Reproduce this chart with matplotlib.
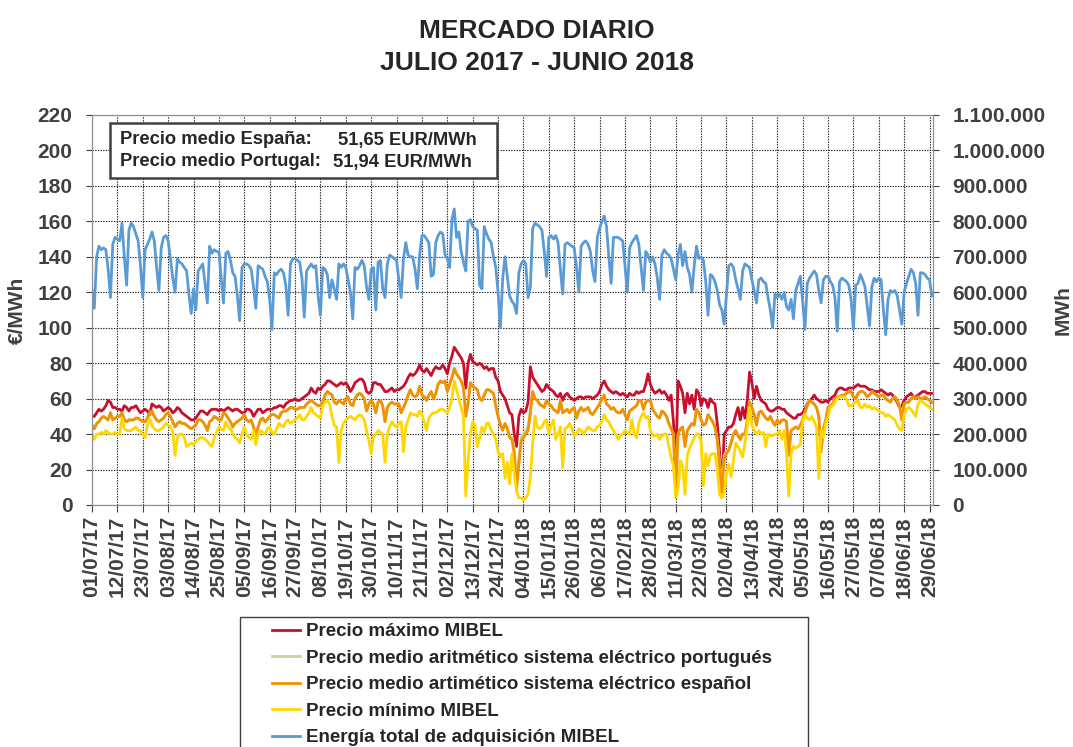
import matplotlib.pyplot as plt
import matplotlib.ticker as ticker
import matplotlib.dates as mdates
from matplotlib.patches import Rectangle
import pandas as pd

plt.rcParams['font.family'] = ['Liberation Sans', 'DejaVu Sans']
plt.rcParams['font.weight'] = 'bold'
plt.rcParams['axes.labelweight'] = 'bold'

# Daily values, 01/07/2017 - 30/06/2018 (one line = one week, Saturday to Friday)
fechas = pd.date_range('2017-07-01', '2018-06-30', freq='D')

precio_max = [
    50, 50, 52, 54, 53, 54, 56,
    59, 58, 55, 55, 54, 54, 53,
    56, 55, 53, 55, 55, 56, 54,
    52, 53, 54, 53, 51, 57, 56,
    55, 56, 55, 53, 54, 55, 54,
    52, 53, 55, 54, 52, 51, 50,
    49, 48, 48, 49, 51, 53, 53,
    52, 51, 53, 54, 54, 54, 53,
    54, 53, 54, 55, 54, 53, 54,
    54, 53, 52, 52, 54, 54, 53,
    50, 52, 54, 54, 52, 53, 54,
    54, 54, 55, 55, 56, 56, 55,
    57, 58, 59, 59, 60, 59, 59,
    60, 61, 62, 63, 66, 64, 63,
    66, 65, 67, 68, 70, 70, 69,
    68, 67, 68, 69, 68, 69, 67,
    64, 66, 69, 70, 71, 71, 69,
    64, 63, 64, 69, 69, 68, 68,
    66, 64, 64, 65, 66, 64, 65,
    65, 66, 67, 69, 72, 74, 73,
    74, 76, 79, 76, 75, 77, 75,
    73, 76, 78, 77, 77, 79, 77,
    74, 80, 84, 89, 87, 85, 83,
    80, 66, 80, 85, 81, 80, 79,
    80, 79, 77, 78, 76, 77, 77,
    72, 70, 64, 62, 60, 56, 52,
    51, 40, 33, 50, 54, 52, 53,
    58, 78, 72, 70, 68, 66, 64,
    65, 68, 66, 65, 64, 62, 61,
    63, 59, 62, 63, 61, 60, 59,
    60, 61, 61, 60, 61, 61, 61,
    60, 61, 62, 64, 68, 70, 67,
    65, 64, 63, 64, 63, 62, 63,
    62, 61, 63, 62, 62, 64, 63,
    64, 64, 68, 74, 68, 65, 63,
    64, 65, 63, 64, 62, 59, 62,
    47, 22, 70, 67, 63, 52, 63,
    57, 62, 54, 65, 63, 56, 60,
    59, 55, 60, 58, 57, 46, 30,
    8, 40, 42, 44, 44, 46, 51,
    55, 48, 55, 49, 59, 75, 69,
    60, 67, 62, 59, 58, 57, 54,
    53, 53, 54, 55, 55, 54, 54,
    52, 51, 50, 49, 49, 51, 51,
    52, 54, 57, 59, 60, 62, 60,
    59, 58, 58, 59, 58, 60, 61,
    62, 65, 66, 66, 65, 65, 66,
    66, 66, 67, 68, 67, 67, 67,
    66, 65, 65, 64, 64, 64, 65,
    64, 63, 62, 63, 62, 60, 58,
    55, 56, 59, 61, 62, 63, 61,
    61, 62, 63, 64, 64, 63, 63,
    63,
]

precio_pt = [
    45, 43, 46, 47, 49, 50, 49,
    48, 52, 48, 49, 50, 50, 52,
    48, 47, 48, 48, 48, 49, 49,
    48, 47, 47, 49, 52, 53, 50,
    48, 47, 48, 49, 51, 52, 50,
    47, 44, 46, 47, 46, 46, 45,
    44, 43, 44, 45, 48, 48, 47,
    45, 42, 47, 48, 50, 49, 48,
    48, 52, 51, 49, 47, 44, 46,
    47, 48, 49, 51, 48, 47, 48,
    44, 39, 44, 48, 49, 47, 48,
    50, 51, 51, 50, 49, 52, 53,
    53, 54, 55, 55, 54, 54, 55,
    55, 55, 57, 58, 59, 58, 57,
    56, 56, 58, 62, 64, 63, 62,
    58, 57, 59, 58, 57, 60, 61,
    57, 56, 60, 62, 63, 62, 60,
    53, 57, 59, 57, 52, 58, 59,
    56, 47, 55, 57, 58, 57, 57,
    57, 52, 55, 58, 62, 65, 62,
    61, 62, 67, 62, 61, 59, 62,
    64, 60, 63, 68, 70, 69, 70,
    64, 68, 72, 77, 74, 72, 70,
    66, 53, 58, 69, 67, 66, 65,
    60, 59, 62, 65, 65, 64, 63,
    56, 50, 46, 43, 46, 43, 39,
    38, 32, 14, 27, 38, 40, 42,
    44, 54, 64, 60, 59, 57, 56,
    55, 59, 57, 56, 54, 53, 52,
    59, 52, 53, 54, 52, 54, 55,
    49, 53, 55, 53, 54, 55, 52,
    51, 53, 55, 57, 60, 62, 57,
    56, 54, 55, 53, 52, 52, 54,
    51, 48, 53, 54, 55, 56, 59,
    59, 54, 58, 59, 59, 54, 52,
    50, 49, 53, 52, 50, 46, 43,
    40, 10, 40, 43, 44, 33, 42,
    44, 46, 45, 54, 52, 48, 45,
    46, 51, 49, 47, 44, 37, 24,
    12, 28, 30, 31, 35, 40, 42,
    39, 37, 40, 40, 47, 58, 55,
    51, 45, 52, 53, 51, 49, 48,
    50, 47, 45, 48, 46, 48, 48,
    47, 30, 42, 43, 44, 43, 45,
    48, 52, 56, 59, 58, 57, 55,
    50, 32, 43, 48, 55, 56, 57,
    60, 61, 61, 62, 62, 63, 64,
    64, 61, 60, 63, 64, 64, 63,
    61, 62, 64, 63, 62, 61, 62,
    62, 60, 59, 58, 60, 61, 59,
    56, 48, 57, 58, 58, 60, 61,
    60, 61, 60, 60, 61, 60, 59,
    58,
]

precio_es = [
    45, 43, 46, 47, 49, 50, 49,
    48, 52, 48, 49, 50, 50, 52,
    48, 47, 48, 48, 48, 49, 49,
    48, 47, 47, 49, 52, 53, 50,
    48, 47, 48, 49, 51, 52, 50,
    47, 44, 46, 47, 46, 46, 45,
    44, 43, 44, 45, 48, 48, 47,
    45, 42, 47, 48, 50, 49, 48,
    48, 52, 51, 49, 47, 44, 46,
    47, 48, 49, 51, 48, 47, 48,
    44, 39, 44, 48, 49, 47, 48,
    50, 51, 51, 50, 49, 52, 53,
    53, 54, 55, 55, 54, 54, 55,
    55, 55, 57, 58, 59, 58, 57,
    56, 56, 58, 62, 64, 63, 62,
    58, 57, 59, 58, 57, 60, 61,
    57, 56, 60, 62, 63, 62, 60,
    53, 57, 59, 57, 52, 58, 59,
    56, 47, 55, 57, 58, 57, 57,
    57, 52, 55, 58, 62, 65, 62,
    61, 62, 67, 62, 61, 59, 62,
    64, 60, 63, 68, 70, 69, 70,
    64, 68, 72, 77, 74, 72, 70,
    66, 50, 57, 69, 67, 66, 65,
    60, 59, 62, 65, 65, 64, 63,
    56, 50, 45, 42, 46, 43, 38,
    37, 29, 9, 23, 36, 38, 40,
    42, 52, 64, 60, 59, 57, 56,
    55, 59, 57, 56, 54, 53, 52,
    59, 52, 53, 54, 52, 54, 55,
    49, 53, 55, 53, 54, 55, 52,
    51, 53, 55, 57, 60, 62, 57,
    56, 54, 55, 53, 52, 52, 54,
    51, 48, 53, 54, 55, 56, 59,
    59, 54, 58, 59, 59, 54, 52,
    50, 49, 53, 52, 50, 46, 43,
    40, 7, 40, 43, 44, 33, 42,
    44, 46, 45, 54, 52, 48, 45,
    46, 51, 49, 47, 44, 37, 22,
    7, 26, 29, 31, 35, 40, 42,
    39, 37, 40, 40, 47, 58, 55,
    51, 45, 52, 53, 51, 49, 48,
    50, 47, 45, 48, 46, 48, 48,
    47, 28, 42, 43, 44, 43, 45,
    48, 52, 56, 59, 58, 57, 55,
    50, 30, 43, 48, 55, 56, 57,
    60, 61, 61, 62, 62, 63, 64,
    64, 61, 60, 63, 64, 64, 63,
    61, 62, 64, 63, 62, 61, 62,
    62, 60, 59, 58, 60, 61, 59,
    56, 48, 57, 58, 58, 60, 61,
    60, 61, 60, 60, 61, 60, 59,
    58,
]

precio_min = [
    40, 37, 40, 40, 41, 40, 42,
    41, 40, 40, 41, 40, 40, 49,
    43, 42, 42, 42, 43, 44, 42,
    42, 40, 38, 45, 49, 45, 43,
    42, 42, 43, 44, 46, 45, 44,
    41, 28, 38, 40, 40, 38, 33,
    34, 35, 34, 36, 37, 38, 38,
    37, 36, 34, 33, 38, 41, 44,
    43, 42, 47, 44, 43, 40, 38,
    37, 35, 40, 44, 40, 38, 37,
    42, 34, 40, 42, 41, 40, 43,
    44, 41, 40, 43, 46, 45, 44,
    47, 48, 46, 47, 48, 49, 51,
    48, 48, 50, 52, 55, 52, 51,
    50, 49, 56, 58, 59, 57, 50,
    45, 44, 24, 42, 46, 48, 49,
    50, 49, 48, 50, 51, 50, 48,
    42, 36, 29, 39, 40, 42, 41,
    40, 24, 40, 44, 47, 45, 44,
    46, 47, 30, 44, 48, 52, 51,
    51, 50, 53, 51, 47, 42, 49,
    51, 52, 52, 53, 54, 54, 53,
    52, 55, 60, 70, 65, 60, 55,
    50, 5, 25, 40, 47, 45, 33,
    38, 44, 41, 46, 46, 42, 40,
    37, 30, 27, 29, 15, 24, 12,
    29, 18, 8, 4, 4, 3, 4,
    6, 16, 35, 50, 44, 43, 44,
    47, 48, 40, 45, 48, 37, 40,
    44, 21, 43, 44, 46, 43, 39,
    40, 43, 42, 40, 42, 44, 43,
    42, 42, 44, 45, 47, 51, 48,
    47, 44, 42, 40, 37, 39, 40,
    42, 41, 40, 48, 40, 38, 46,
    50, 52, 49, 50, 42, 39, 39,
    40, 37, 39, 40, 40, 33, 27,
    22, 4, 9, 25, 22, 6, 28,
    32, 35, 38, 40, 40, 36, 11,
    29, 22, 28, 29, 29, 20, 6,
    4, 7, 18, 23, 16, 25, 35,
    33, 30, 27, 35, 44, 55, 45,
    42, 40, 42, 40, 41, 33, 40,
    39, 39, 40, 40, 42, 37, 42,
    29, 5, 29, 33, 32, 33, 34,
    47, 51, 49, 48, 50, 47, 44,
    15, 42, 38, 46, 50, 55, 56,
    58, 60, 61, 61, 61, 60, 56,
    56, 57, 58, 59, 55, 55, 57,
    55, 56, 54, 55, 54, 53, 52,
    52, 50, 51, 50, 49, 48, 45,
    43, 42, 51, 54, 55, 54, 52,
    50, 57, 59, 58, 57, 56, 55,
    54,
]

# thousands of MWh
energia_mil_mwh = [
    605, 555, 700, 730, 720, 725, 720,
    665, 585, 735, 755, 750, 745, 795,
    700, 620, 775, 795, 785, 765, 745,
    675, 585, 720, 735, 750, 770, 745,
    670, 605, 725, 755, 760, 745, 695,
    640, 600, 695, 685, 680, 670, 660,
    595, 540, 610, 550, 660, 670, 680,
    625, 570, 730, 710, 720, 715, 715,
    640, 570, 710, 715, 690, 655, 645,
    590, 520, 670, 680, 680, 675, 665,
    615, 555, 675, 670, 665, 645, 630,
    580, 495, 655, 650, 660, 665, 655,
    620, 535, 680, 695, 695, 690, 685,
    640, 530, 660, 670, 680, 670, 675,
    590, 535, 670, 665, 650, 585, 635,
    610, 580, 680, 670, 680, 670, 635,
    600, 525, 670, 665, 675, 690, 675,
    615, 580, 665, 670, 550, 685, 690,
    610, 585, 680, 705, 700, 695, 690,
    635, 585, 695, 740, 705, 700, 700,
    665, 610, 705, 760, 760, 750, 740,
    645, 650, 740, 760, 770, 765, 705,
    695, 670, 805, 835, 755, 770, 715,
    685, 660, 800, 805, 785, 780, 775,
    620, 610, 785, 765, 750, 740, 700,
    670, 600, 500, 640, 700, 645, 590,
    575, 565, 540, 655, 680, 690, 680,
    585, 615, 780, 795, 790, 785, 775,
    715, 645, 755, 760, 750, 760, 740,
    665, 595, 735, 740, 735, 730, 725,
    670, 600, 730, 740, 745, 735, 715,
    660, 630, 755, 780, 800, 815, 785,
    700, 625, 755, 755, 755, 750, 745,
    675, 600, 725, 740, 750, 760, 735,
    670, 605, 715, 705, 685, 700, 680,
    640, 580, 705, 720, 710, 705, 695,
    665, 635, 705, 735, 675, 715, 670,
    650, 600, 675, 730, 695, 700, 690,
    630, 535, 650, 645, 630, 605, 565,
    550, 510, 595, 675, 680, 670, 635,
    610, 580, 660, 680, 675, 670, 635,
    605, 570, 635, 640, 630, 625, 585,
    550, 500, 595, 585, 595, 580, 600,
    560, 550, 580, 525, 605, 625, 645,
    575, 495, 625, 640, 650, 660, 650,
    605, 570, 635, 645, 645, 630, 620,
    585, 490, 630, 640, 635, 630, 620,
    580, 495, 620, 625, 650, 635, 615,
    560, 505, 615, 640, 630, 640, 635,
    550, 480, 580, 605, 600, 605, 590,
    550, 510, 600, 625, 645, 665, 655,
    625, 535, 655, 655, 650, 640, 635,
    590,
]

energia_mwh = [v * 1000 for v in energia_mil_mwh]

etiquetas = [
    'Precio máximo MIBEL',
    'Precio medio aritmético sistema eléctrico portugués',
    'Precio medio artimético sistema eléctrico español',
    'Precio mínimo MIBEL',
    'Energía total de adquisición MIBEL',
]
colores = ['#C8102E', '#C3D69B', '#F39200', '#FFD700', '#5B9BD5']

W, H = 1073, 747
fig = plt.figure(figsize=(W / 100, H / 100), dpi=100)
ax = fig.add_axes([92 / W, 1 - 505 / H, (933 - 92) / W, (505 - 115) / H])
ax2 = ax.twinx()

l1, = ax.plot(fechas, precio_max, color=colores[0], lw=2, label=etiquetas[0])
l2, = ax.plot(fechas, precio_pt, color=colores[1], lw=2, label=etiquetas[1])
l3, = ax.plot(fechas, precio_es, color=colores[2], lw=2, label=etiquetas[2])
l4, = ax.plot(fechas, precio_min, color=colores[3], lw=2, label=etiquetas[3])
l5, = ax2.plot(fechas, energia_mwh, color=colores[4], lw=2, label=etiquetas[4])

gris = '#404040'
ax.set_ylim(0, 220)
ax.set_yticks(range(0, 221, 20))
ax2.set_ylim(0, 1100000)
ax2.set_yticks(range(0, 1100001, 100000))
ax2.yaxis.set_major_formatter(ticker.FuncFormatter(lambda v, p: f'{int(v):,}'.replace(',', '.')))

ax.set_xlim(fechas[0], fechas[-1] + pd.Timedelta(hours=12))
ax.set_xticks(fechas[::11])
ax.xaxis.set_major_formatter(mdates.DateFormatter('%d/%m/%y'))
ax.tick_params(axis='x', labelrotation=90, labelsize=15, colors=gris, length=5, pad=3)
ax.tick_params(axis='y', labelsize=15, colors=gris, length=4, pad=10)
ax2.tick_params(axis='y', labelsize=15, colors=gris, length=4, pad=10)

ax.grid(True, color='#202020', linestyle=(0, (1.2, 1.2)), linewidth=0.8)
for a in (ax, ax2):
    for s in a.spines.values():
        s.set_color('#909090')
        s.set_linewidth(0.8)

ax.set_ylabel('€/MWh', fontsize=15, color=gris, labelpad=8)
ax2.set_ylabel('MWh', fontsize=15, color=gris, labelpad=6)

fig.text(0.5, 1 - 47 / H, 'MERCADO DIARIO\nJULIO 2017 - JUNIO 2018', ha='center', va='center',
         fontsize=19, color='#262626', linespacing=1.38)

# average price box
fig.patches.append(Rectangle((110 / W, 1 - 178 / H), (497 - 110) / W, (178 - 123) / H,
                             transform=fig.transFigure, fill=True, facecolor='white',
                             edgecolor='#404040', linewidth=1.8, zorder=5))
fig.text(120 / W, 1 - 140 / H, 'Precio medio España:', fontsize=13.2, color='#262626', va='center', zorder=6)
fig.text(338 / W, 1 - 140 / H, '51,65 EUR/MWh', fontsize=13.2, color='#262626', va='center', zorder=6)
fig.text(120 / W, 1 - 162 / H, 'Precio medio Portugal:', fontsize=13.2, color='#262626', va='center', zorder=6)
fig.text(333 / W, 1 - 162 / H, '51,94 EUR/MWh', fontsize=13.2, color='#262626', va='center', zorder=6)

# legend frame (runs past the bottom edge)
fig.patches.append(Rectangle((240 / W, -0.05), (808 - 240) / W, 1 - 617 / H + 0.05,
                             transform=fig.transFigure, fill=False,
                             edgecolor='#404040', linewidth=1.0))
leg = fig.legend(handles=[l1, l2, l3, l4, l5], loc='upper left',
                 bbox_to_anchor=(272 / W, 1 - 623 / H), frameon=False,
                 fontsize=13.5, handlelength=1.5, handletextpad=0.3,
                 labelspacing=0.5, borderpad=0, borderaxespad=0)
for t in leg.get_texts():
    t.set_color('#262626')

fig.savefig('out.png', dpi=100)
